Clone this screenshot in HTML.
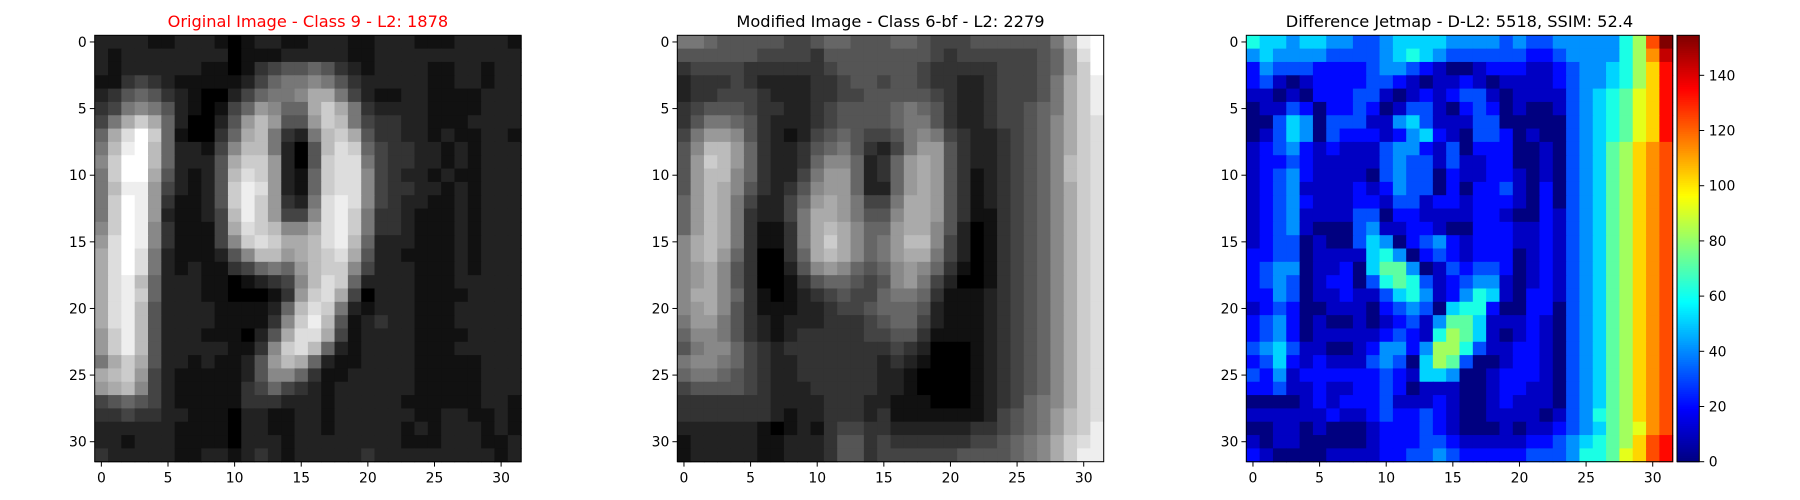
<!DOCTYPE html>
<html><head><meta charset="utf-8">
<style>
html,body{margin:0;padding:0;background:#fff;}
svg{display:block;font-family:"DejaVu Sans","Liberation Sans",sans-serif;}
</style></head>
<body>
<svg id="fig" width="1800" height="500" viewBox="0 0 1800 500" xmlns="http://www.w3.org/2000/svg"></svg>
<script>
// ---- data: 32x32 pixel intensities (hex levels 0..f) ----
const origRows = [
"2222112221012211"+"2221122211122221",
"2122222222011122"+"2221122222222222",
"2122222211013455"+"6532122221122122",
"1134321111124677"+"8753222221122122",
"2356532100246778"+"aa74211221111222",
"3478752101469866"+"aca7322221111222",
"47aca6200259b955"+"9cb7433221112222",
"6adfc610036ab732"+"7bca533221211221",
"7befb622148bb720"+"5bdc643322121222",
"8cffb62225acc920"+"5cdd743322121222",
"7cffa52125bdc921"+"6cdd843221211222",
"7bee942125ced921"+"6cdd843322121222",
"7cfe931125cec932"+"7ded843221121222",
"7cfe921124bec944"+"8dec733211121222",
"8cfe831114adcb88"+"adec733211121222",
"9dfe8311148cdcaa"+"bdeb622211121222",
"adfd72111258bb9a"+"bcda522111121222",
"adfd721211346769"+"bcc8422211121222",
"adeb622211012348"+"bdc6222211122222",
"adec622211000139"+"cda4022211112222",
"adeb52222111126b"+"dc72122211122222",
"adeb52222111138c"+"eb51232211122222",
"9ceb5222111025ad"+"da41222211112222",
"9ceb5222221138cd"+"b621222211122222",
"7aca5221211259ba"+"6211222211111222",
"abc9421111125886"+"3112222211111222",
"9ab8421111134643"+"2122222211111222",
"4565421111133322"+"2122222111111221",
"3343322111022112"+"2122222211221121",
"2222221111022112"+"2122222121222121",
"2212221111022212"+"2222222111222112",
"3222221122123212"+"2222322222222212"
];
const modRows = [
"7765555544566555"+"6654445555557aef",
"5555554444355555"+"55543444444569df",
"3444433333345555"+"55433333444569cf",
"2333432222334554"+"5543322344457ace",
"2334443222334455"+"5554322344457ace",
"3455543322345555"+"6765322344567ace",
"3577653222345555"+"6775322344568acd",
"4799853212456544"+"5787432234568acd",
"58bb963223567532"+"4799532234568acd",
"59cb963223688623"+"69a9532234568bcd",
"59bb863224799623"+"69a9531234568bcd",
"59ba853235899622"+"69a9531234568acd",
"69ba7422469a9744"+"7aa9531234568acd",
"69ba732247aa9755"+"8aa9531134568acd",
"69ba731137aba866"+"9aa8520134568acd",
"8aba731137aca867"+"9bb8420134568acd",
"8ab9630036aba867"+"9aa7420134568acd",
"89a8530025898656"+"8986310134568acd",
"89a8530013566545"+"8974200134568acd",
"8aa8631012345446"+"7763111234568acd",
"89a8531112234456"+"6652111234568acd",
"7997532122233345"+"6642111234568acd",
"6887532123333344"+"5531111234568acd",
"5788643233333333"+"4320001234568acd",
"7887643223333332"+"3210001234568acd",
"6776543223333332"+"2100001234568acd",
"4555543222333332"+"2100001234568acd",
"3333333222233322"+"1110001234678acd",
"3333333212233323"+"1111111245679bcd",
"2222221012134433"+"2222223345679bce",
"1222221122235534"+"333333445678acde",
"1222221122235534"+"444445555678acee"
];
const diffRows = [
"6554554433455554"+"44434334444468cf",
"4544443333456543"+"33333223444468be",
"2433322223443210"+"01222112344568ad",
"2310122223321011"+"21011112344568ad",
"1101022233101212"+"33101111345679ad",
"0113202232013310"+"23201001345679ad",
"0035403331145311"+"13300000345679ad",
"0135403222124521"+"03320100345679ad",
"1234212111344213"+"0222001034578abc",
"1223211111343313"+"1122001034578abc",
"1234211110343302"+"1122101034578abc",
"1234111121243302"+"0223102034578abc",
"1234211122133122"+"1222102034578abc",
"1234111133022111"+"1221002134578abc",
"1234100034112210"+"0222112134578abc",
"1233010035402342"+"1222112134578abc",
"2233011115640232"+"1222012134578abc",
"2344011205774013"+"2332012134578abc",
"2343012203676312"+"3441012134578abc",
"2243011211356412"+"4651022134578abc",
"1232001110234305"+"6620022034578abc",
"2342010010123147"+"7511121034578abc",
"2342011111232168"+"7510121034578abc",
"3453110012442488"+"6311221034578abc",
"2352121113430587"+"3001221034578abc",
"3241222222321554"+"0012221034578abc",
"2231121122320111"+"0012211034578abc",
"0000121222311121"+"0012111034578abc",
"1111112112322321"+"0011110134678abc",
"0011010001222321"+"00010112345789bc",
"1011000001222332"+"1111122345678acd",
"2100001111223343"+"2222233346679acd"
];
const xTickVals = [0,5,10,15,20,25,30];
const yTickVals = [0,5,10,15,20,25,30];
const cbTickVals = [0,20,40,60,80,100,120,140];
const diffMax = 154.5;
const titles = ["Original Image - Class 9 - L2: 1878","Modified Image - Class 6-bf - L2: 2279","Difference Jetmap - D-L2: 5518, SSIM: 52.4"];

const NS="http://www.w3.org/2000/svg";
const svg=document.getElementById('fig');
function mk(tag,attrs,parent){const e=document.createElementNS(NS,tag);for(const k in attrs)e.setAttribute(k,attrs[k]);(parent||svg).appendChild(e);return e;}
function lvl(s,c){const ch=s[c]||'0';return parseInt(ch,16)||0;}
function jet(x){const cl=v=>Math.max(0,Math.min(1,v));
  const r=cl(1.5-Math.abs(4*x-3)),g=cl(1.5-Math.abs(4*x-2)),b=cl(1.5-Math.abs(4*x-1));
  return `rgb(${Math.round(r*255)},${Math.round(g*255)},${Math.round(b*255)})`;}

const Y0=35.3, SIZE=426.4, N=32, CELL=SIZE/N;
const panelX=[94.7,677.3,1246.3];
const rowsets=[origRows,modRows,diffRows];

function drawPanel(p){
  const x0=panelX[p];
  const g=mk('g',{});
  
  
  const rows=rowsets[p];
  for(let r=0;r<N;r++){
    for(let c=0;c<N;c++){
      const L=lvl(rows[r],c);
      let fill;
      if(p<2){const v=L*17;fill=`rgb(${v},${v},${v})`;}
      else{const val=L/15*diffMax;fill=jet(val/diffMax);}
      const cell=mk('rect',{x:(x0+c*CELL).toFixed(2),y:(Y0+r*CELL).toFixed(2),width:(CELL+0.6).toFixed(2),height:(CELL+0.6).toFixed(2),fill:fill},g);
      
      
    }
  }
  const fr=mk('rect',{x:x0,y:Y0,width:SIZE,height:SIZE,fill:'none',stroke:'#000','stroke-width':1},g);
  
  
  xTickVals.forEach(v=>{
    const x=x0+(v+0.5)*CELL;
    mk('line',{x1:x,x2:x,y1:Y0+SIZE,y2:Y0+SIZE+4.9,stroke:'#000','stroke-width':1},g);
    const t=mk('text',{x:x,y:Y0+SIZE+21,'font-size':13.9,'text-anchor':'middle',fill:'#000'},g);
    t.textContent=v;
    
    
  });
  yTickVals.forEach(v=>{
    const y=Y0+(v+0.5)*CELL;
    mk('line',{x1:x0-4.9,x2:x0,y1:y,y2:y,stroke:'#000','stroke-width':1},g);
    const t=mk('text',{x:x0-8,y:y+5,'font-size':13.9,'text-anchor':'end',fill:'#000'},g);
    t.textContent=v;
    
    
  });
  const tt=mk('text',{x:x0+SIZE/2,y:27,'font-size':16.2,'text-anchor':'middle',fill:p===0?'#ff0000':'#000'},g);
  tt.textContent=titles[p];
  
  
}
[0,1,2].forEach(drawPanel);

// colorbar
const CBX=1677, CBW=22.3, CBY0=35.3, CBY1=461.7;
const cb=mk('g',{});


const steps=200;
for(let i=0;i<steps;i++){
  const f0=i/steps,f1=(i+1)/steps;
  const y=CBY1-(CBY1-CBY0)*f1;
  mk('rect',{x:CBX,y:y.toFixed(2),width:CBW,height:((CBY1-CBY0)/steps+0.6).toFixed(2),fill:jet((f0+f1)/2)},cb);
}
const cbf=mk('rect',{x:CBX,y:CBY0,width:CBW,height:CBY1-CBY0,fill:'none',stroke:'#000','stroke-width':1},cb);


cbTickVals.forEach(v=>{
  const y=CBY1-(CBY1-CBY0)*v/diffMax;
  mk('line',{x1:CBX+CBW,x2:CBX+CBW+4.9,y1:y,y2:y,stroke:'#000','stroke-width':1},cb);
  const t=mk('text',{x:CBX+CBW+9.5,y:y+5,'font-size':13.9,fill:'#000'},cb);
  t.textContent=v;
  
  
});
</script>
</body></html>
